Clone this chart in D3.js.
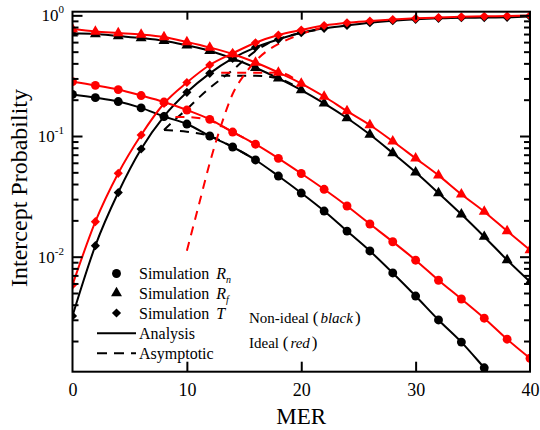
<!DOCTYPE html>
<html>
<head>
<meta charset="utf-8">
<script src="https://cdn.jsdelivr.net/npm/d3@7"></script>
<style>
    body { margin: 0; background: #fff; }
</style>
</head>
<body>
<div id="chart"></div>
<script>
// MER values of the simulation points
var mer = [0, 2, 4, 6, 8, 10, 12, 14, 16, 18, 20, 22, 24, 26, 28, 30, 32, 34, 36, 38, 40];

// non-ideal (black)
var rnNonIdeal = [0.221, 0.208, 0.193, 0.171, 0.145, 0.1257, 0.100, 0.0811, 0.0633, 0.0466, 0.0337, 0.0239, 0.0163, 0.01115, 0.00733, 0.00472, 0.00299, 0.00196, 0.00120, 0.00073, 0.00044];
var rfNonIdeal = [0.709, 0.700, 0.674, 0.649, 0.616, 0.564, 0.509, 0.4386, 0.368, 0.3006, 0.2405, 0.1866, 0.141, 0.1029, 0.0723, 0.0501, 0.0337, 0.02245, 0.01464, 0.00939, 0.0062];
var tNonIdeal = [0.00323, 0.01234, 0.0340, 0.078, 0.1456, 0.2302, 0.3307, 0.440, 0.543, 0.6326, 0.7176, 0.7805, 0.8232, 0.8684, 0.902, 0.9266, 0.944, 0.955, 0.958, 0.9625, 0.977];

// ideal (red)
var rnIdeal = [0.282, 0.263, 0.2426, 0.2165, 0.1913, 0.1642, 0.1375, 0.1079, 0.0855, 0.0653, 0.0489, 0.0362, 0.0263, 0.01866, 0.0133, 0.00935, 0.00638, 0.00446, 0.00309, 0.00207, 0.00144];
var rfIdeal = [0.770, 0.734, 0.7137, 0.6934, 0.661, 0.601, 0.541, 0.478, 0.4064, 0.3358, 0.2723, 0.2125, 0.161, 0.1234, 0.0904, 0.0653, 0.0472, 0.0329, 0.0236, 0.0163, 0.01136];
var tIdeal = [0.00583, 0.0195, 0.0491, 0.102, 0.186, 0.2776, 0.3876, 0.4843, 0.593, 0.687, 0.7553, 0.8232, 0.8684, 0.897, 0.923, 0.944, 0.959, 0.972, 0.981, 0.987, 0.996];

// asymptotic curves (only where they leave the analysis curves)
var asymMerTBlack = [8, 9, 10, 11, 12, 13, 14, 15, 16, 17, 18, 19, 20, 22];
var asymTBlack = [0.112, 0.138, 0.167, 0.206, 0.250, 0.297, 0.352, 0.426, 0.506, 0.578, 0.636, 0.680, 0.714, 0.777];
var asymMerTRed = [10, 11, 12, 13, 14, 15, 16, 17, 18, 19, 20, 22];
var asymTRed = [0.0112, 0.0258, 0.0597, 0.123, 0.223, 0.320, 0.418, 0.506, 0.578, 0.642, 0.700, 0.800];
var asymMerRnBlack = [8, 10, 12, 14, 16];
var asymRnBlack = [0.112, 0.1085, 0.100, 0.0811, 0.0633];
var asymMerRnRed = [9, 10, 12, 14, 16];
var asymRnRed = [0.144, 0.1437, 0.1344, 0.1079, 0.0855];
var asymMerRfBlack = [13, 14, 16, 18, 20];
var asymRfBlack = [0.318, 0.316, 0.316, 0.30, 0.2405];
var asymMerRfRed = [13, 14, 16, 18, 20];
var asymRfRed = [0.334, 0.334, 0.334, 0.3358, 0.2723];

// axis ticks
var xTicks = [0, 10, 20, 30, 40];
var yMajor = [1e-2, 1e-1, 1];
var yMajorExp = ["-2", "-1", "0"];

var width = 540, height = 430;
var plot = { left: 72.5, right: 530, top: 11.7, bottom: 371.7 };
var RED = "#ff0000";
var FONT = "'Liberation Serif', 'Times New Roman', serif";

var svg = d3.select("#chart").append("svg")
    .attr("width", width)
    .attr("height", height)
    .attr("font-family", FONT);

var xScale = d3.scaleLinear()
    .domain([0, 40])
    .range([plot.left, plot.right]);

var yScale = d3.scaleLog()
    .domain([0.001114, 1.072])
    .range([plot.bottom, plot.top]);

svg.append("clipPath").attr("id", "plotclip")
    .append("rect")
    .attr("x", plot.left).attr("y", plot.top)
    .attr("width", plot.right - plot.left)
    .attr("height", plot.bottom - plot.top);

var g = svg.append("g").attr("clip-path", "url(#plotclip)");

var line = d3.line()
    .x(function(d) { return xScale(d[0]); })
    .y(function(d) { return yScale(d[1]); })
    .curve(d3.curveMonotoneX);

function pairs(xs, ys) {
    return xs.map(function(x, i) { return [x, ys[i]]; });
}

// solid analysis lines
var analysis = [
    [rnNonIdeal, "#000"], [rfNonIdeal, "#000"], [tNonIdeal, "#000"],
    [rnIdeal, RED], [rfIdeal, RED], [tIdeal, RED]
];
analysis.forEach(function(a) {
    g.append("path")
        .attr("d", line(pairs(mer, a[0])))
        .attr("fill", "none")
        .attr("stroke", a[1])
        .attr("stroke-width", 2);
});

// dashed asymptotic lines
var asym = [
    [asymMerTBlack, asymTBlack, "#000"], [asymMerRnBlack, asymRnBlack, "#000"], [asymMerRfBlack, asymRfBlack, "#000"],
    [asymMerTRed, asymTRed, RED], [asymMerRnRed, asymRnRed, RED], [asymMerRfRed, asymRfRed, RED]
];
asym.forEach(function(a) {
    g.append("path")
        .attr("d", line(pairs(a[0], a[1])))
        .attr("fill", "none")
        .attr("stroke", a[2])
        .attr("stroke-width", 2)
        .attr("stroke-dasharray", "9,7");
});

// markers
var circleSym = d3.symbol().type(d3.symbolCircle).size(62);
var triSym = d3.symbol().type(d3.symbolTriangle).size(52);
var diaSym = d3.symbol().type(d3.symbolSquare).size(42);

function draw_markers(values, sym, color, rot) {
    g.append("g").selectAll("path")
        .data(pairs(mer, values))
        .enter().append("path")
        .attr("d", sym)
        .attr("fill", color)
        .attr("transform", function(d) {
            return "translate(" + xScale(d[0]) + "," + yScale(d[1]) + ")" + (rot ? "rotate(45)" : "");
        });
}
draw_markers(rnNonIdeal, circleSym, "#000");
draw_markers(rfNonIdeal, triSym, "#000");
draw_markers(tNonIdeal, diaSym, "#000", true);
draw_markers(rnIdeal, circleSym, RED);
draw_markers(rfIdeal, triSym, RED);
draw_markers(tIdeal, diaSym, RED, true);

// frame
svg.append("rect")
    .attr("x", plot.left).attr("y", plot.top)
    .attr("width", plot.right - plot.left)
    .attr("height", plot.bottom - plot.top)
    .attr("fill", "none")
    .attr("stroke", "#000")
    .attr("stroke-width", 2);

// x axis (ticks inside, bottom and top)
var xAxis = d3.axisBottom(xScale).tickValues(xTicks).tickSizeInner(-10).tickSizeOuter(0).tickPadding(12);
var xg = svg.append("g")
    .attr("transform", "translate(0," + plot.bottom + ")")
    .call(xAxis);
xg.select(".domain").remove();
xg.selectAll("line").attr("stroke-width", 2).filter(function(d) { return d == 0 || d == 40; }).remove();
xg.selectAll("text").attr("font-size", 18).attr("font-family", FONT).attr("fill", "#000");

var xTop = svg.append("g")
    .attr("transform", "translate(0," + plot.top + ")")
    .call(d3.axisTop(xScale).tickValues([10, 20, 30]).tickSizeInner(-8).tickSizeOuter(0).tickFormat(""));
xTop.select(".domain").remove();
xTop.selectAll("line").attr("stroke-width", 2);

// y axis minor ticks
var yMinor = [];
[1e-3, 1e-2, 1e-1].forEach(function(dec) {
    for (var k = 2; k <= 9; k++) {
        var v = k * dec;
        if (v > yScale.domain()[0]) yMinor.push(v);
    }
});

function y_axis_side(axisFn, xpos) {
    var major = svg.append("g")
        .attr("transform", "translate(" + xpos + ",0)")
        .call(axisFn(yScale).tickValues(yMajor).tickSizeInner(-10).tickSizeOuter(0).tickFormat(""));
    major.select(".domain").remove();
    major.selectAll("line").attr("stroke-width", 2);
    var minor = svg.append("g")
        .attr("transform", "translate(" + xpos + ",0)")
        .call(axisFn(yScale).tickValues(yMinor).tickSizeInner(-6).tickSizeOuter(0).tickFormat(""));
    minor.select(".domain").remove();
    minor.selectAll("line").attr("stroke-width", 2);
}
y_axis_side(d3.axisLeft, plot.left);
y_axis_side(d3.axisRight, plot.right);

// y tick labels 10^n
yMajor.forEach(function(v, i) {
    var t = svg.append("text")
        .attr("x", 64)
        .attr("y", yScale(v) + 6)
        .attr("text-anchor", "end")
        .attr("font-size", 17);
    t.append("tspan").text("10");
    t.append("tspan").attr("font-size", 11).attr("dy", -8).text(yMajorExp[i]);
});

// axis titles
svg.append("text")
    .attr("x", (plot.left + plot.right) / 2)
    .attr("y", 424)
    .attr("text-anchor", "middle")
    .attr("font-size", 23)
    .text("MER");

svg.append("text")
    .attr("text-anchor", "middle")
    .attr("transform", "translate(27,188)rotate(-90)")
    .attr("font-size", 24)
    .text("Intercept Probability");

// legend
var legX = 116.5, legTextX = 139, legY = [273.5, 293, 313, 333.3, 353.3];
var legend = svg.append("g").attr("font-size", 16);

legend.append("path").attr("d", circleSym).attr("transform", "translate(" + legX + "," + legY[0] + ")");
legend.append("path").attr("d", triSym).attr("transform", "translate(" + legX + "," + legY[1] + ")");
legend.append("path").attr("d", diaSym).attr("transform", "translate(" + legX + "," + legY[2] + ")rotate(45)");
legend.append("line").attr("x1", 97).attr("x2", 136).attr("y1", legY[3]).attr("y2", legY[3])
    .attr("stroke", "#000").attr("stroke-width", 2);
legend.append("line").attr("x1", 97).attr("x2", 136).attr("y1", legY[4]).attr("y2", legY[4])
    .attr("stroke", "#000").attr("stroke-width", 2).attr("stroke-dasharray", "10,7");

var legLabels = [["Simulation ", "R", "n"], ["Simulation ", "R", "f"], ["Simulation ", "T", ""], ["Analysis", "", ""], ["Asymptotic", "", ""]];
legLabels.forEach(function(l, i) {
    var t = legend.append("text").attr("x", legTextX).attr("y", legY[i] + 5.5);
    t.append("tspan").text(l[0]);
    if (l[1]) t.append("tspan").attr("font-style", "italic").attr("dx", 3).text(l[1]);
    if (l[2]) t.append("tspan").attr("font-style", "italic").attr("font-size", 10).attr("dy", 4).text(l[2]);
});

// ideal / non-ideal note
var notes = [["Non-ideal ", "black", 323], ["Ideal ", "red", 348]];
notes.forEach(function(n) {
    var t = svg.append("text").attr("x", 249).attr("y", n[2]).attr("font-size", 15);
    t.append("tspan").text(n[0]);
    t.append("tspan").attr("font-size", 17).text("(");
    t.append("tspan").attr("font-style", "italic").attr("dx", 2).text(n[1]);
    t.append("tspan").attr("font-size", 17).attr("dx", 2).text(")");
});
</script>
</body>
</html>
